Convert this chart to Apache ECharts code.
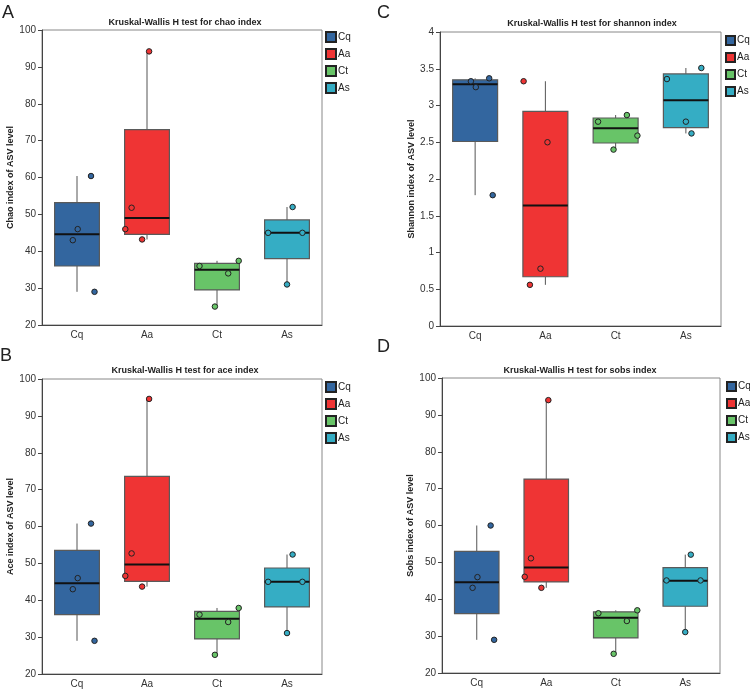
<!DOCTYPE html>
<html lang="en">
<head>
    <meta charset="UTF-8">
    <title>kruskal_wallis_boxplots</title>
    <script src="https://cdn.jsdelivr.net/npm/echarts@6/dist/echarts.min.js"></script>
    <style>
        html, body { margin: 0; padding: 0; background: #fff; }
        #mainChart { width: 750px; height: 690px; }
    </style>
</head>

<body>
    <div id="mainChart"></div>
    <script>
        const groups = ['Cq', 'Aa', 'Ct', 'As']
        const groupColors = ['#33669f', '#ef3434', '#68c468', '#35adc4']

        // horizontal jitter of each sample, in category widths (same in every panel)
        const jitter = [
            [0.2, 0.01, -0.06, 0.25],
            [0.03, -0.22, -0.31, -0.07],
            [0.31, -0.25, 0.16, -0.03],
            [0.08, -0.27, 0.22, 0]
        ]

        // samples per group
        const chaoPoints = [[60.4, 46, 43, 29], [94.2, 51.8, 46, 43.2], [37.4, 36, 34, 25], [52, 45, 45, 31]]
        const shannonPoints = [[3.37, 3.25, 3.33, 1.78], [2.5, 0.56, 3.33, 0.78], [2.59, 2.78, 2.87, 2.4], [2.62, 3.36, 3.51, 2.78]]
        const acePoints = [[60.8, 46, 43, 29], [94.6, 52.7, 46.6, 43.7], [37.9, 36.1, 34.1, 25.2], [52.4, 45, 45, 31.1]]
        const sobsPoints = [[60, 46, 43.1, 29], [94, 51.1, 46.1, 43.1], [37, 36.2, 34.1, 25.2], [52.1, 45.1, 45.1, 31.1]]

        // box stats: min, q1, median, q3, max
        const chaoBox = [[29, 36, 44.6, 53.2, 60.4], [43.2, 44.6, 49, 73, 94.2], [25, 29.5, 35, 36.7, 37.4], [31, 38, 45, 48.5, 52]]
        const shannonBox = [[1.78, 2.51, 3.29, 3.35, 3.37], [0.56, 0.67, 1.64, 2.92, 3.33], [2.4, 2.49, 2.69, 2.83, 2.87], [2.62, 2.7, 3.07, 3.43, 3.51]]
        const aceBox = [[29, 36.1, 44.6, 53.5, 60.8], [43.7, 45.1, 49.7, 73.6, 94.6], [25.2, 29.5, 35, 37, 37.9], [31.1, 38.2, 45, 48.75, 52.4]]
        const sobsBox = [[29, 36.1, 44.6, 53, 60], [43.1, 44.7, 48.6, 72.6, 94], [25.2, 29.5, 35, 36.6, 37], [31.1, 38.1, 45, 48.6, 52.1]]

        const panels = [
            { letter: 'A', title: 'Kruskal-Wallis H test for chao index', yName: 'Chao index of ASV level',
              box: chaoBox, points: chaoPoints, min: 20, max: 100, interval: 10,
              grid: { left: 42, top: 30, width: 280, height: 295 }, nameGap: 23,
              titlePos: [185, 23], letterPos: [2, 4], legendPos: [325, 31], legendItem: 10 },
            { letter: 'C', title: 'Kruskal-Wallis H test for shannon index', yName: 'Shannon index of ASV level',
              box: shannonBox, points: shannonPoints, min: 0, max: 4, interval: 0.5,
              grid: { left: 440, top: 32, width: 281, height: 294 }, nameGap: 17,
              titlePos: [592, 24], letterPos: [377, 4], legendPos: [725, 35], legendItem: 9 },
            { letter: 'B', title: 'Kruskal-Wallis H test for ace index', yName: 'Ace index of ASV level',
              box: aceBox, points: acePoints, min: 20, max: 100, interval: 10,
              grid: { left: 42, top: 379, width: 280, height: 295 }, nameGap: 23,
              titlePos: [185, 371], letterPos: [0, 347], legendPos: [325, 381], legendItem: 10 },
            { letter: 'D', title: 'Kruskal-Wallis H test for sobs index', yName: 'Sobs index of ASV level',
              box: sobsBox, points: sobsPoints, min: 20, max: 100, interval: 10,
              grid: { left: 442, top: 378, width: 278, height: 295 }, nameGap: 24,
              titlePos: [580, 371], letterPos: [377, 338], legendPos: [726, 381], legendItem: 9 }
        ]

        const fontFamily = '"Liberation Sans", Arial, sans-serif'

        function renderBox(params, api) {
            const i = api.value(0)
            const lo = api.coord([i, api.value(1)])
            const q1 = api.coord([i, api.value(2)])
            const md = api.coord([i, api.value(3)])
            const q3 = api.coord([i, api.value(4)])
            const hi = api.coord([i, api.value(5)])
            const half = api.size([1, 0])[0] * 0.32
            const x = lo[0]
            const whisker = { stroke: '#555', lineWidth: 1 }
            return {
                type: 'group',
                children: [
                    { type: 'line', shape: { x1: x, y1: hi[1], x2: x, y2: q3[1] }, style: whisker },
                    { type: 'line', shape: { x1: x, y1: q1[1], x2: x, y2: lo[1] }, style: whisker },
                    { type: 'rect', shape: { x: x - half, y: q3[1], width: half * 2, height: q1[1] - q3[1] },
                      style: { fill: groupColors[params.dataIndex], stroke: '#5a5a5a', lineWidth: 1.2 } },
                    { type: 'line', shape: { x1: x - half, y1: md[1], x2: x + half, y2: md[1] },
                      style: { stroke: '#111', lineWidth: 2 } }
                ]
            }
        }

        let grids = [], xAxes = [], yAxes = [], series = [], legends = [], graphics = []

        panels.forEach((p, pi) => {
            grids.push(Object.assign({ show: true, borderColor: '#888', borderWidth: 1, backgroundColor: '#fff' }, p.grid))

            xAxes.push({
                type: 'category', gridIndex: pi, data: groups,
                axisLine: { onZero: false, lineStyle: { color: '#444' } },
                axisTick: { alignWithLabel: true, length: 4, lineStyle: { color: '#444' } },
                axisLabel: { fontSize: 10, color: '#333', margin: 5, fontFamily: fontFamily }
            })
            xAxes.push({ type: 'value', gridIndex: pi, min: -0.5, max: 3.5, show: false })

            yAxes.push({
                type: 'value', gridIndex: pi, min: p.min, max: p.max, interval: p.interval,
                name: p.yName, nameLocation: 'middle', nameGap: p.nameGap, nameRotate: 90,
                nameTextStyle: { fontSize: 9, fontWeight: 'bold', color: '#222', fontFamily: fontFamily },
                splitLine: { show: false },
                axisLine: { show: true, onZero: false, lineStyle: { color: '#444' } },
                axisTick: { show: true, length: 4, lineStyle: { color: '#444' } },
                axisLabel: { fontSize: 10, color: '#333', margin: 6, fontFamily: fontFamily }
            })

            series.push({
                type: 'custom', name: 'box' + pi, xAxisIndex: pi * 2, yAxisIndex: pi,
                renderItem: renderBox,
                encode: { x: 0, y: [1, 2, 3, 4, 5] },
                data: p.box.map((b, i) => [i].concat(b)),
                silent: true
            })

            groups.forEach((g, gi) => {
                series.push({
                    type: 'scatter', name: g, xAxisIndex: pi * 2 + 1, yAxisIndex: pi,
                    symbolSize: 5.5,
                    itemStyle: { color: groupColors[gi], borderColor: '#222', borderWidth: 1, opacity: 1 },
                    data: p.points[gi].map((v, k) => [gi + jitter[gi][k], v]),
                    z: 5
                })
            })

            legends.push({
                data: groups, orient: 'vertical', left: p.legendPos[0], top: p.legendPos[1],
                icon: 'rect', itemWidth: p.legendItem, itemHeight: p.legendItem, itemGap: 15 - p.legendItem, padding: 0,
                selectedMode: false,
                textStyle: { fontSize: 10, color: '#222', fontFamily: fontFamily, padding: [0, 0, 0, -3] }
            })

            graphics.push({
                type: 'text', x: p.titlePos[0], y: p.titlePos[1],
                style: { text: p.title, textAlign: 'center', textVerticalAlign: 'middle',
                         font: 'bold 9px ' + fontFamily, fill: '#222' }
            })
            graphics.push({
                type: 'text', x: p.letterPos[0], y: p.letterPos[1],
                style: { text: p.letter, font: '18px ' + fontFamily, fill: '#222' }
            })
        })

        let chartsData = {
            backgroundColor: '#fff',
            animation: false,
            grid: grids,
            xAxis: xAxes,
            yAxis: yAxes,
            legend: legends,
            graphic: graphics,
            series: series
        }

        let charts = echarts.init(document.querySelector('#mainChart'))
        charts.setOption(chartsData)

        window.addEventListener('resize', function () {
            charts.resize()
        })
    </script>
</body>

</html>
